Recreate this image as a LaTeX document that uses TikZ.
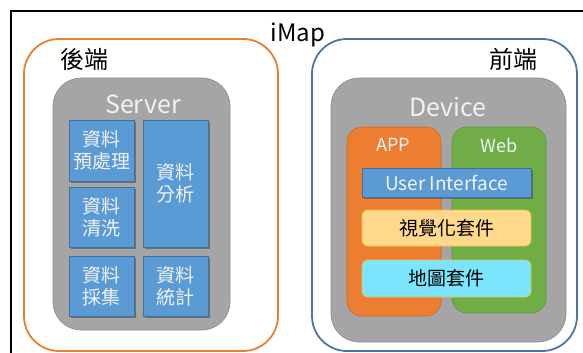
\documentclass[tikz,border=0pt]{standalone}
\usepackage{fontspec}
\setmainfont{Noto Sans CJK TC}
\usetikzlibrary{shadows}
\definecolor{cOrange}{HTML}{ED7D31}
\definecolor{cGreen}{HTML}{70AD47}
\definecolor{cGray}{HTML}{A5A5A5}
\definecolor{cBlue}{HTML}{5B9BD5}
\definecolor{cBlueLine}{HTML}{41719C}
\definecolor{cSteel}{HTML}{4A76A6}
\definecolor{cVis}{HTML}{FFD88C}
\definecolor{cVisLine}{HTML}{F5C342}
\definecolor{cMap}{HTML}{7AE5FC}
\definecolor{cMapLine}{HTML}{E6C64A}
\definecolor{cText}{HTML}{F2F2F2}
\tikzset{
  region/.style={draw, line width=1.8pt, rounded corners=35pt, inner sep=0pt},
  platform/.style={fill=cGray, draw=cGray!85!black, line width=0.6pt, rounded corners=28pt, inner sep=0pt},
  task/.style={fill=cBlue, draw=cBlueLine, line width=0.6pt, inner sep=0pt,
    minimum width=65pt, text=cText, align=center,
    font=\fontsize{19}{22}\selectfont,
    drop shadow={shadow xshift=1.8pt, shadow yshift=-1.8pt, fill=black!70, opacity=0.6}},
  client/.style={line width=0.6pt, rounded corners=15pt, inner sep=0pt, minimum width=94pt},
  layer/.style={line width=0.8pt, rounded corners=6pt, inner sep=0pt,
    minimum width=169pt, font=\fontsize{19}{22}\selectfont},
  title/.style={font=\fontsize{24}{26}\selectfont, inner sep=0pt},
  head/.style={font=\fontsize{25}{28}\selectfont, text=cText, inner sep=0pt},
  sub/.style={font=\fontsize{18}{20}\selectfont, text=cText, inner sep=0pt}
}
\begin{document}
\begin{tikzpicture}[x=1pt,y=-1pt]
\useasboundingbox (0,0) rectangle (583,353);
\draw[line width=1.5pt] (11,11) rectangle (620,380);
\node[title] (imap) at (298,35) {iMap};
% regions
\node[region, draw=cOrange, minimum width=254pt, minimum height=312pt] (back) at (151,195) {};
\node[region, draw=cSteel, minimum width=265pt, minimum height=312pt] (front) at (444.5,195) {};
\node[title] (backlbl) at (84,59) {後端};
\node[title] (frontlbl) at (513,59) {前端};
% server
\node[platform, minimum width=177pt, minimum height=252pt] (server) at (141.5,204) {};
\node[head] (serverlbl) at (143,104) {Server};
\node[task, minimum height=61pt] (pre) at (101.5,150.5) {資料\\預處理};
\node[task, minimum height=127pt] (analyze) at (175.5,183.5) {資料\\分析};
\node[task, minimum height=60pt] (clean) at (101.5,217) {資料\\清洗};
\node[task, minimum height=60pt] (collect) at (101.5,286) {資料\\採集};
\node[task, minimum height=60pt] (stats) at (175.5,286) {資料\\統計};
% device
\node[platform, minimum width=235pt, minimum height=264pt] (device) at (448.5,210) {};
\node[head] (devicelbl) at (448,107) {Device};
\node[client, fill=cOrange, draw=cOrange!85!black, minimum height=189pt] (app) at (394,221.5) {};
\node[client, fill=cGreen, draw=cGreen!85!black, minimum height=186pt] (web) at (499,220) {};
\node[sub] (applbl) at (393,145) {APP};
\node[sub] (weblbl) at (499,145) {Web};
\node[task, minimum width=169pt, minimum height=29pt, font=\fontsize{19}{22}\selectfont] (ui) at (446.5,182.5) {User Interface};
\node[layer, fill=cVis, draw=cVisLine, minimum height=36pt] (vis) at (446.5,228) {視覺化套件};
\node[layer, fill=cMap, draw=cMapLine, minimum height=37pt] (map) at (446.5,278.5) {地圖套件};
\end{tikzpicture}
\end{document}
